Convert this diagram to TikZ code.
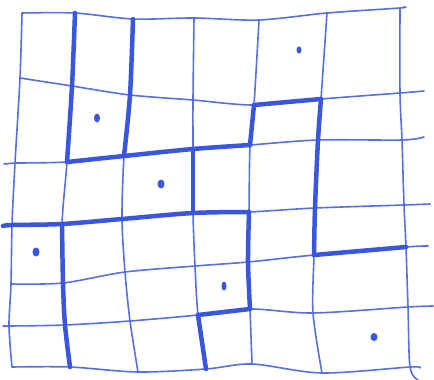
\documentclass[tikz,border=0pt]{standalone}
\definecolor{ink}{RGB}{58,86,222}
\begin{document}
\begin{tikzpicture}[x=1pt, y=-1pt,
    grid line/.style={ink!85, line width=1.6pt, line cap=round, line join=round},
    wall/.style={ink, line width=4.5pt, line cap=round, line join=round}]
  \useasboundingbox (0,0) rectangle (434,380);
  % 网格交点 p<列><行>
  \foreach \i/\pts in {0/{22/13,20/78,15/163,12/225,11/284,9/326,12/367},
                       1/{75/13,72/86,67/162,62/224,63/283,65/325,70/367},
                       2/{133/19,130/95,124/156,122/219,125/272,130/321,138/372},
                       3/{194/18,193/100,193/149,193/213,195/266,198/315,206/369},
                       4/{259/20,254/105,250/145,249/212,248/262,250/309,252/364},
                       5/{327/13,321/99,318/140,315/208,314/255,313/313,322/373},
                       6/{400/8,400/93,402/140,404/205,406/247,408/307,410/367}}
    \foreach \x/\y [count=\j from 0] in \pts
      \coordinate (p\i\j) at (\x,\y);
  % 线端
  \foreach \j/\x/\y in {0/404/7,1/424/91,2/424/137,3/430/204,4/428/246,5/433/306,6/420/368}
    \coordinate (r\j) at (\x,\y);
  \coordinate (l2) at (4,164);
  \coordinate (l3) at (3,226);
  \coordinate (l5) at (3,326);
  \coordinate (b6) at (418,380);
  % 细网格线
  \foreach \i in {0,...,5}
    \draw[grid line] plot[smooth] coordinates {(p\i0) (p\i1) (p\i2) (p\i3) (p\i4) (p\i5) (p\i6)};
  \draw[grid line] plot[smooth] coordinates {(p60) (p61) (p62) (p63) (p64) (p65) (p66) (b6)};
  \foreach \j in {0,...,6}
    \draw[grid line] plot[smooth] coordinates {(p0\j) (p1\j) (p2\j) (p3\j) (p4\j) (p5\j) (p6\j) (r\j)};
  \draw[grid line] (l2) -- (p02);
  \draw[grid line] (l3) -- (p03);
  \draw[grid line] (l5) -- (p05);
  % 粗线（分区边界）
  \draw[wall] plot[smooth] coordinates {(p10) (p11) (p12)};
  \draw[wall] plot[smooth] coordinates {(p13) (p14) (p15) (p16)};
  \draw[wall] plot[smooth] coordinates {(p20) (p21) (p22)};
  \draw[wall] (p32) -- (p33);
  \draw[wall] (p35) -- (p36);
  \draw[wall] (p41) -- (p42);
  \draw[wall] plot[smooth] coordinates {(p43) (p44) (p45)};
  \draw[wall] plot[smooth] coordinates {(p51) (p52) (p53) (p54)};
  \draw[wall] (p41) -- (p51);
  \draw[wall] plot[smooth] coordinates {(p12) (p22) (p32) (p42)};
  \draw[wall] plot[smooth] coordinates {(l3) (p03) (p13) (p23) (p33) (p43)};
  \draw[wall] (p54) -- (p64);
  \draw[wall] (p35) -- (p45);
  % 点
  \fill[ink] (97,118) ellipse (3pt and 4.5pt);
  \fill[ink] (161,184) ellipse (3.5pt and 4.5pt);
  \fill[ink] (299,50) ellipse (2.5pt and 3.5pt);
  \fill[ink] (36,252) ellipse (3.5pt and 4.5pt);
  \fill[ink] (224,286) ellipse (2.5pt and 4.5pt);
  \fill[ink] (374,337) ellipse (3.5pt and 4pt);
\end{tikzpicture}
\end{document}
